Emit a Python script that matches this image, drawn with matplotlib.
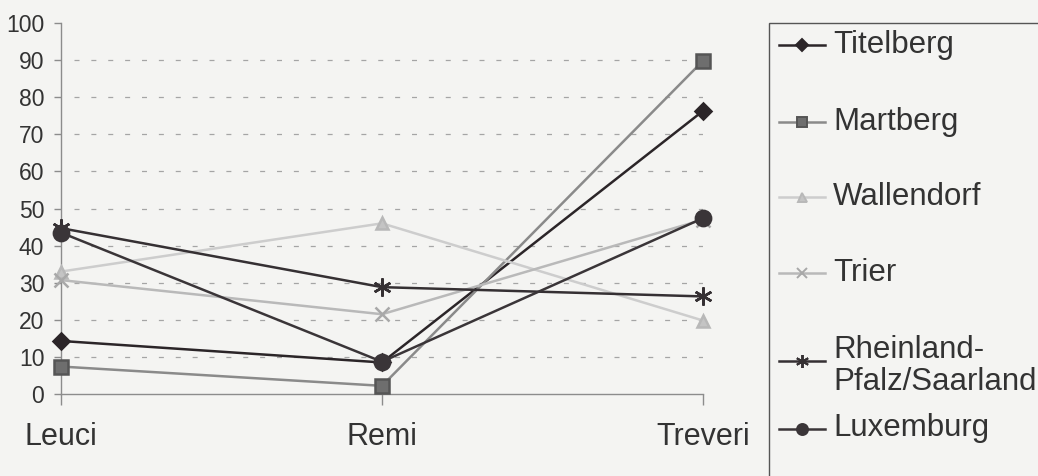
import matplotlib.pyplot as plt
from matplotlib.lines import Line2D
from matplotlib.patches import Rectangle

plt.rcParams['font.family'] = ['Liberation Sans', 'DejaVu Sans']

tribes = ["Leuci", "Remi", "Treveri"]
series = ["Titelberg", "Martberg", "Wallendorf", "Trier", "Rheinland-\nPfalz/Saarland", "Luxemburg"]
titelberg = [14.3, 8.5, 76.3]
martberg = [7.4, 2.2, 89.8]
wallendorf = [33.0, 46.0, 19.8]
trier = [30.7, 21.5, 47.0]
rheinland = [44.7, 28.8, 26.3]
luxemburg = [43.5, 8.7, 47.4]
values = [titelberg, martberg, wallendorf, trier, rheinland, luxemburg]

# line colour, marker, marker size, marker face, marker edge
styles = [
    ("#2b2528", "D", 8, "#2b2528", "#2b2528"),
    ("#8a8a8a", "s", 10, "#6e6e6e", "#555555"),
    ("#cdcdcd", "^", 9, "#c4c4c4", "#b8b8b8"),
    ("#b9b9b9", "x", 10, "#b0b0b0", "#a8a8a8"),
    ("#353033", (6, 2, 0), 13, "#353033", "#353033"),
    ("#3a3538", "o", 11, "#3a3538", "#3a3538"),
]

bg = "#f4f4f2"
text_col = "#333333"
axis_col = "#8c8c8c"

W, H = 1038, 476
fig = plt.figure(figsize=(W / 100, H / 100), dpi=100, facecolor=bg)
ax = fig.add_axes([61 / W, 1 - 394 / H, (703 - 61) / W, (394 - 23) / H])
ax.set_facecolor(bg)

x = list(range(len(tribes)))
for vals, (col, mk, ms, mfc, mec) in zip(values, styles):
    ax.plot(x, vals, color=col, lw=1.8, marker=mk, ms=ms, mfc=mfc, mec=mec,
            mew=1.8, zorder=3, clip_on=False)

ax.set_xlim(0, 2)
ax.set_ylim(0, 100)
ax.set_yticks(range(0, 101, 10))
ax.set_xticks(x)
ax.set_xticklabels(tribes)
for v in range(10, 100, 10):
    ax.plot([0.04, 2], [v, v], color="#a5a5a5", lw=0.9, ls=(0, (4, 9.5)), zorder=1)

for side in ["top", "right"]:
    ax.spines[side].set_visible(False)
for side in ["left", "bottom"]:
    ax.spines[side].set_color(axis_col)
    ax.spines[side].set_linewidth(1.0)
ax.tick_params(axis="y", length=5, width=1, color=axis_col, labelsize=16.5,
               labelcolor=text_col, pad=7)
ax.tick_params(axis="x", length=8, width=1, color=axis_col, labelsize=22,
               labelcolor=text_col, pad=12)

# legend box, running off the right and bottom edges
fig.patches.append(Rectangle((769 / W, -0.1), 0.5, 1.1 - 23 / H, transform=fig.transFigure,
                             fill=False, edgecolor="#555555", lw=1.0))

legend_y = [45, 122, 197, 273, 366, 428]
marker_y = [45, 122, 197, 273, 361, 429]
for name, ty, my, (col, mk, ms, mfc, mec) in zip(series, legend_y, marker_y, styles):
    fy = 1 - my / H
    fig.add_artist(Line2D([779 / W, 825 / W], [fy, fy], transform=fig.transFigure,
                          color=col, lw=1.8))
    fig.add_artist(Line2D([802 / W], [fy], transform=fig.transFigure, marker=mk,
                          ms=ms * 0.72, mfc=mfc, mec=mec, mew=1.4, color=col))
    fig.text(833 / W, 1 - ty / H, name, fontsize=22.5, color=text_col, va="center",
             ha="left", linespacing=1.05)

fig.savefig("out.png", dpi=100, facecolor=bg)
